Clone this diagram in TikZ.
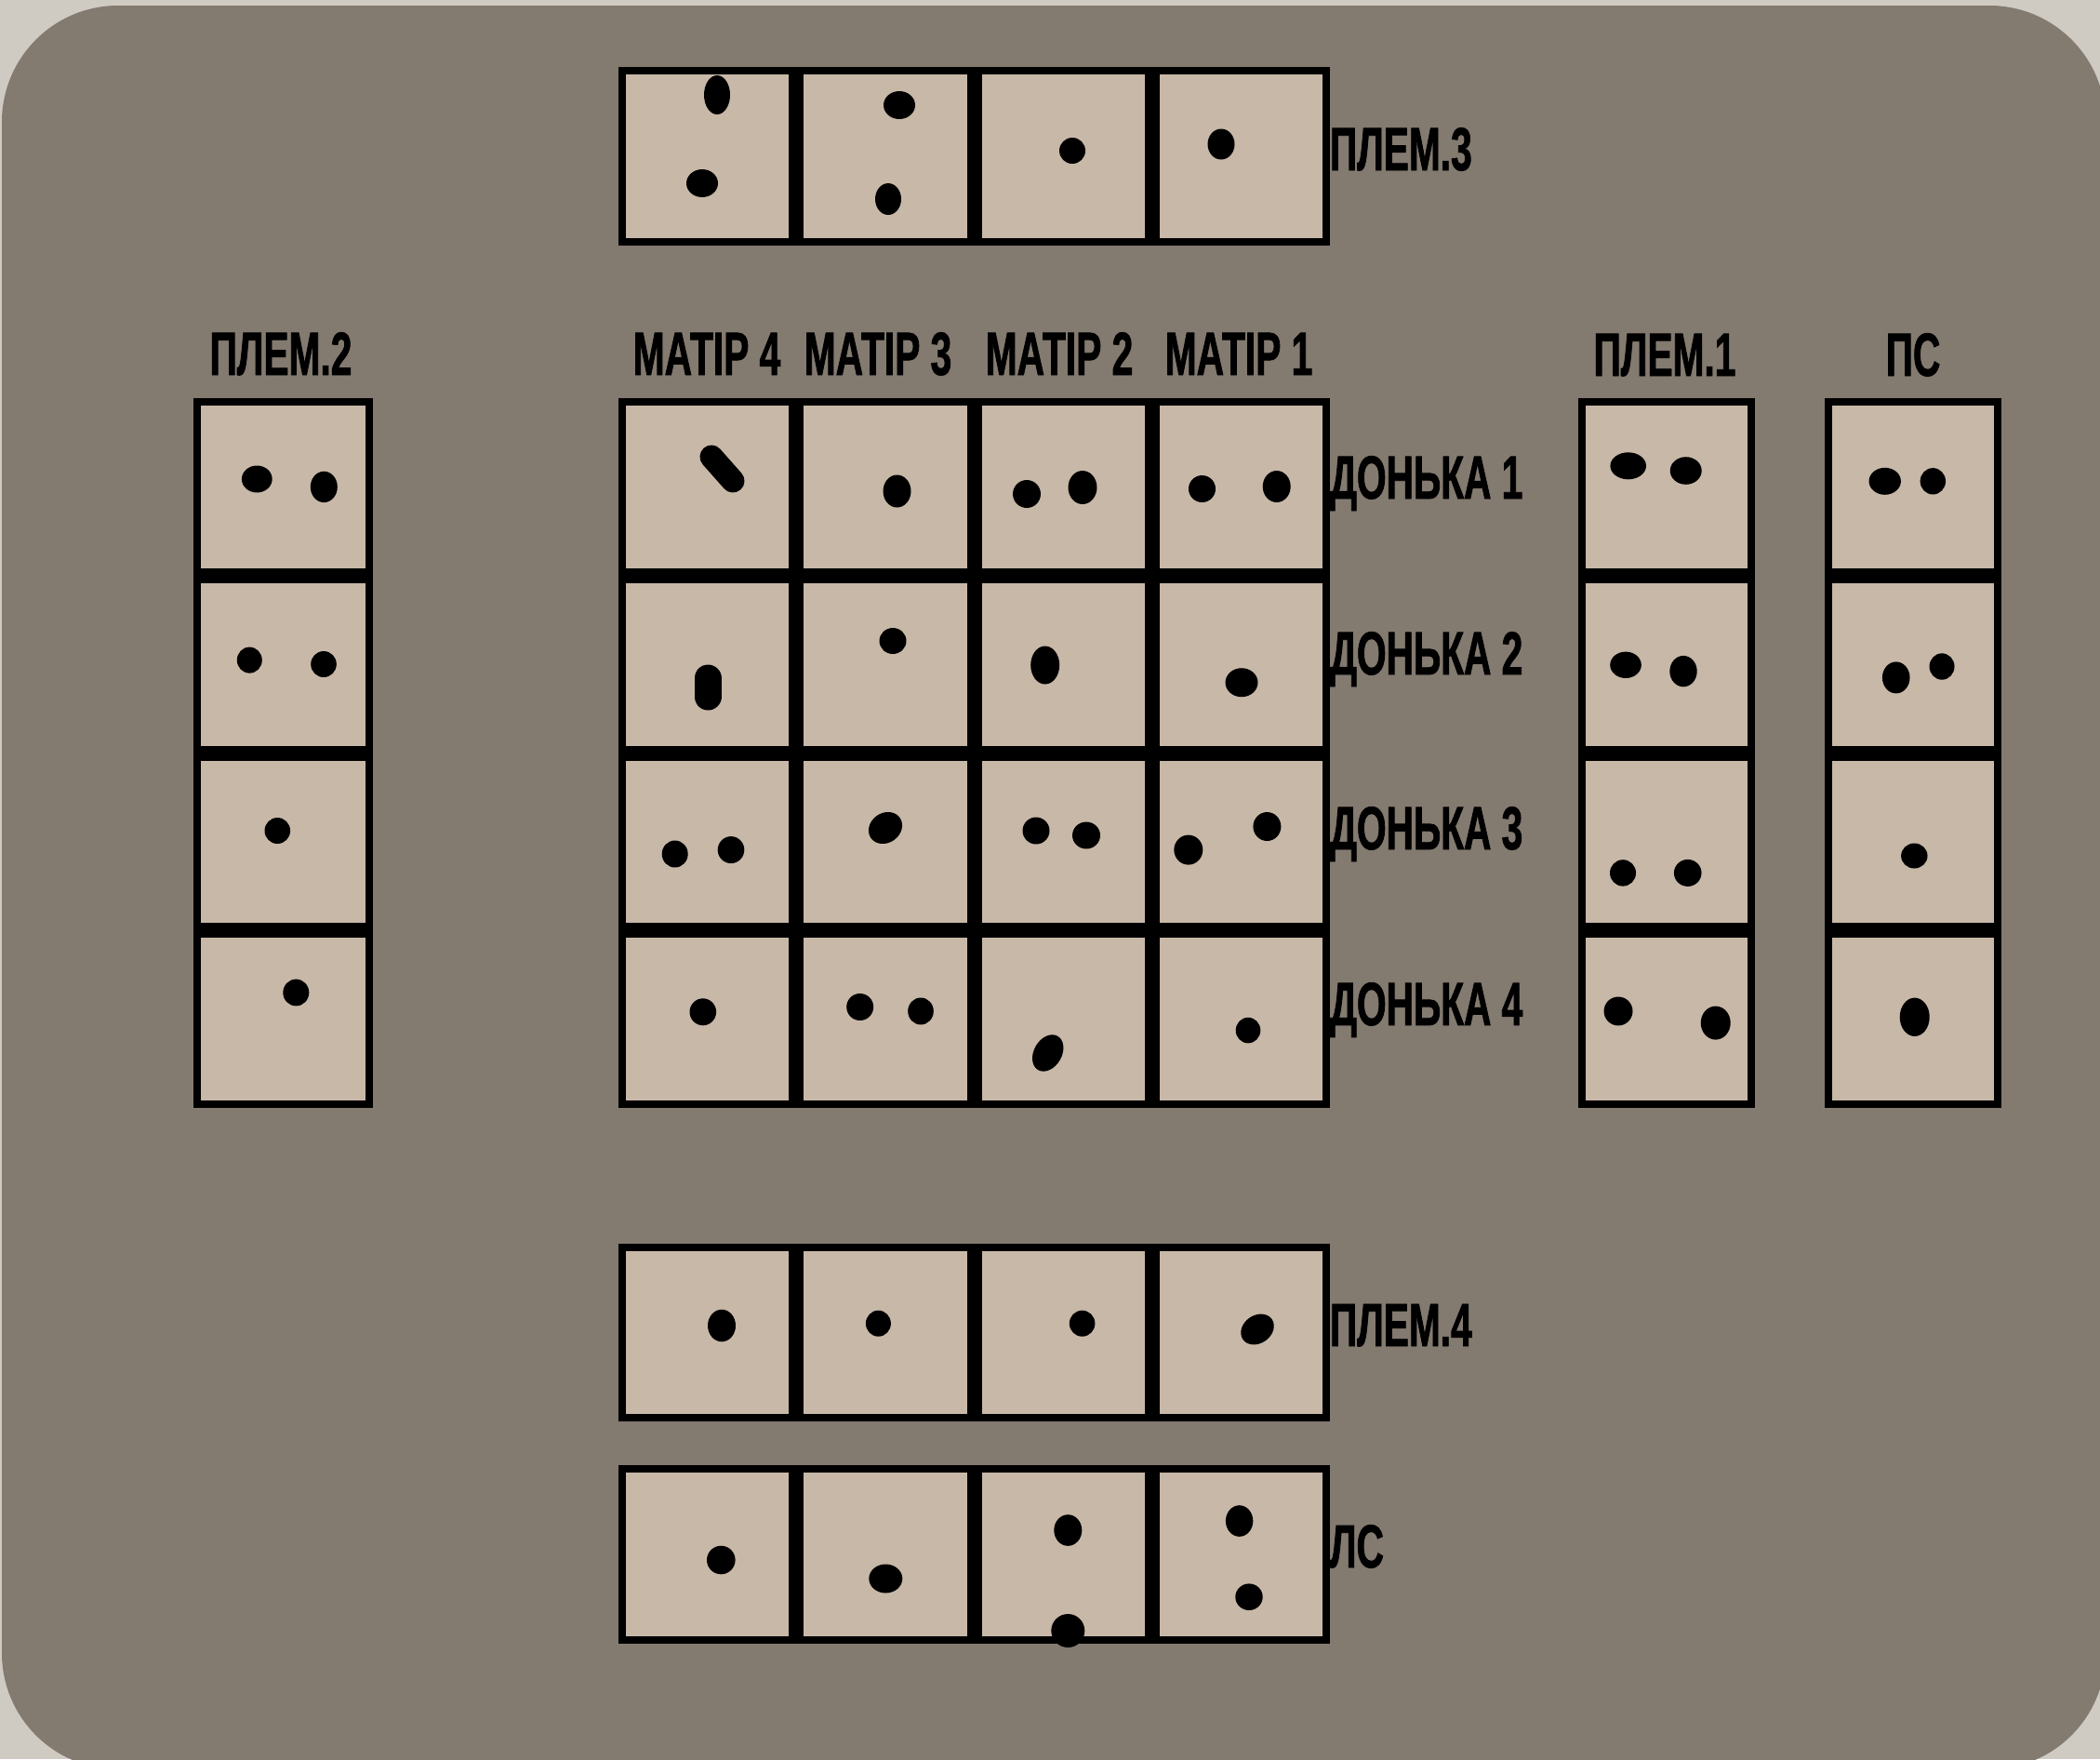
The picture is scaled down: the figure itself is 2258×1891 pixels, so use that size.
\documentclass[tikz,border=0pt]{standalone}
\usepackage{fontspec}
\newfontfamily\labelfont{Liberation Sans}[FakeStretch=0.62,FakeBold=1.2]
\definecolor{outside}{HTML}{CFCAC2}
\definecolor{panel}{HTML}{837A70}
\definecolor{cellc}{HTML}{C8B8A8}
\tikzset{
  cellbox/.style={draw=none, fill=cellc, inner sep=0pt, outer sep=0pt, rectangle},
  lbl/.style={inner sep=0pt, outer sep=0pt, text=black, font=\labelfont\bfseries\fontsize{65.6}{70}\selectfont},
  dotc/.style={fill=black}
}
% name, x0, y0, cols, rows, cw, ch
\newcommand\cellgroup[7]{%
  \fill[black] (#2,#3) rectangle ({#2+#4*#6},{#3+#5*#7});
  \foreach \ci in {1,...,#4}{%
    \foreach \ri in {1,...,#5}{%
      \node[cellbox, minimum width=#6pt-16pt, minimum height=#7pt-16pt]
        (#1-\ri-\ci) at ({#2+(\ci-0.5)*#6},{#3+(\ri-0.5)*#7}) {};
    }%
  }%
}
\newcommand\dt[4]{\fill[dotc] (#1,#2) ellipse [x radius=#3pt, y radius=#4pt];}
\newcommand\rdt[5]{\fill[dotc, rotate around={#5:(#1,#2)}] (#1,#2) ellipse [x radius=#3pt, y radius=#4pt];}
\begin{document}
\begin{tikzpicture}[x=1pt,y=-1pt]
\useasboundingbox (0,0) rectangle (2258,1891);
\clip (0,0) rectangle (2258,1891);
\fill[outside] (0,0) rectangle (2258,1891);
\fill[panel, rounded corners=125pt] (2,6) rectangle (2264,1902);

% groups
\cellgroup{p3}{665}{72}{4}{1}{191.25}{192}
\cellgroup{m}{665}{428}{4}{4}{191.25}{190.75}
\cellgroup{p2}{208}{428}{1}{4}{193}{190.75}
\cellgroup{p1}{1697}{428}{1}{4}{190}{190.75}
\cellgroup{ps}{1962}{428}{1}{4}{190}{190.75}
\cellgroup{p4}{665}{1337}{4}{1}{191.25}{191}
\cellgroup{ls}{665}{1575}{4}{1}{191.25}{192}

% labels
\node[lbl, anchor=base west] (t-p3) at (1430,183) {ПЛЕМ.3};
\node[lbl, anchor=base] (t-m4) at (760,403) {МАТІР 4};
\node[lbl, anchor=base] (t-m3) at (944,403) {МАТІР 3};
\node[lbl, anchor=base] (t-m2) at (1139,403) {МАТІР 2};
\node[lbl, anchor=base] (t-m1) at (1332,403) {МАТІР 1};
\node[lbl, anchor=base] (t-p2) at (302,403) {ПЛЕМ.2};
\node[lbl, anchor=base] (t-p1) at (1790,404) {ПЛЕМ.1};
\node[lbl, anchor=base] (t-ps) at (2057,404) {ПС};
\node[lbl, anchor=base west] (t-d1) at (1430,536) {ДОНЬКА 1};
\node[lbl, anchor=base west] (t-d2) at (1430,725) {ДОНЬКА 2};
\node[lbl, anchor=base west] (t-d3) at (1430,913) {ДОНЬКА 3};
\node[lbl, anchor=base west] (t-d4) at (1430,1102) {ДОНЬКА 4};
\node[lbl, anchor=base west] (t-p4) at (1430,1447) {ПЛЕМ.4};
\node[lbl, anchor=base west] (t-ls) at (1430,1685) {ЛС};

% dots: ПЛЕМ.3
\dt{771}{102}{14}{21}
\dt{755}{197}{17}{15}
\dt{967}{113}{17}{15}
\dt{955}{214}{14}{17}
\dt{1153}{162}{14}{14}
\dt{1313}{155}{14.5}{16.5}

% main grid row 1
\draw[line width=25pt, line cap=round] (765,491) -- (788,517);
\dt{964.5}{528}{15}{17.5}
\dt{1104}{531}{15}{15}
\dt{1164}{524}{15.5}{18}
\dt{1292.5}{525.5}{14.5}{14.5}
\dt{1372.7}{523}{15}{17}
% row 2
\draw[line width=29pt, line cap=round] (761,729) -- (761,749);
\dt{960}{689}{14.5}{14}
\dt{1123.7}{715}{15.5}{20.5}
\dt{1335}{733.7}{17.5}{15.5}
% row 3
\dt{725.7}{918}{14}{14.5}
\dt{786}{913.6}{14.3}{14.5}
\rdt{952}{890}{19}{16}{35}
\dt{1114}{893}{14.5}{14.5}
\dt{1168}{898}{15}{14.5}
\dt{1277.8}{913.6}{15.5}{16}
\dt{1362.4}{888.5}{15}{15.5}
% row 4
\dt{755.8}{1087.8}{14.3}{14.5}
\dt{924.7}{1082.5}{14.5}{14.5}
\dt{990}{1087}{13.8}{14.5}
\rdt{1126.7}{1132}{15}{21}{-30}
\dt{1342}{1107.6}{13.3}{13.8}

% ПЛЕМ.2
\dt{276.3}{515}{16.4}{14.5}
\dt{348.3}{523.4}{14.5}{16.7}
\dt{268.3}{709.6}{13.5}{14}
\dt{348}{714}{13.8}{14}
\dt{298.3}{893}{13.8}{14}
\dt{318.3}{1067}{14}{14.4}

% ПЛЕМ.1
\dt{1750.7}{500.8}{19.3}{14.5}
\dt{1812.7}{506}{17}{14.8}
\dt{1748}{714.8}{16.8}{14.2}
\dt{1810}{721.6}{14.7}{16.7}
\dt{1745}{938.4}{14}{14.2}
\dt{1814.7}{938.4}{14.8}{14.5}
\dt{1740}{1087}{15.5}{15.5}
\dt{1844.7}{1099.6}{16}{18}

% ПС
\dt{2026.7}{517.3}{17.2}{14.5}
\dt{2078.3}{517.3}{13.7}{14.2}
\dt{2038.7}{728.4}{14.8}{17}
\dt{2088}{716.5}{13.5}{14.2}
\dt{2058.3}{920}{14.2}{13.5}
\dt{2058.7}{1093.3}{16}{20.7}

% ПЛЕМ.4
\dt{776}{1425}{15}{17.3}
\dt{944.4}{1422.7}{13.5}{14}
\dt{1163.6}{1422.7}{13.8}{14}
\rdt{1352}{1429}{19}{15}{35}

% ЛС
\dt{775.3}{1677}{15.3}{15.3}
\dt{952.3}{1697}{18}{15.5}
\dt{1148.3}{1645}{15}{16.8}
\dt{1148.3}{1753}{18}{18}
\dt{1332.6}{1635}{14.7}{16.8}
\dt{1343}{1716.7}{14.7}{14.3}
\end{tikzpicture}
\end{document}
